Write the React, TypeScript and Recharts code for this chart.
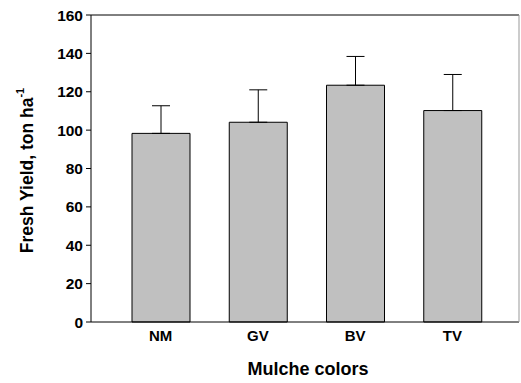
import React from 'react';
import {
  BarChart,
  Bar,
  XAxis,
  YAxis,
  ErrorBar,
} from 'recharts';

// values
const mulches = ['NM', 'GV', 'BV', 'TV'];
const yieldMean = [98.3, 104.1, 123.4, 110.2];
const yieldErr = [14.4, 16.9, 15.0, 18.8];
const yTicks = [0, 20, 40, 60, 80, 100, 120, 140, 160];

const data = mulches.map((m, i) => ({
  name: m,
  value: yieldMean[i],
  err: [0, yieldErr[i]],
}));

const FONT = '"Liberation Sans", Arial, sans-serif';

const YLabel = ({ viewBox }: any) => {
  const cx = 27;
  const cy = viewBox.y + viewBox.height / 2 + 2;
  return (
    <text
      x={cx}
      y={cy}
      transform={`rotate(-90, ${cx}, ${cy})`}
      textAnchor="middle"
      dominantBaseline="central"
      fontFamily={FONT}
      fontWeight="bold"
      fontSize={17.5}
      fill="#000"
    >
      Fresh Yield, ton ha
      <tspan fontSize={11} dy={-7}>-1</tspan>
    </text>
  );
};

const XLabel = ({ viewBox }: any) => {
  return (
    <text
      x={viewBox.x + viewBox.width / 2 + 3}
      y={369}
      textAnchor="middle"
      dominantBaseline="central"
      fontFamily={FONT}
      fontWeight="bold"
      fontSize={18}
      fill="#000"
    >
      Mulche colors
    </text>
  );
};

export default function App() {
  return (
    <div style={{ position: 'absolute', left: 0, top: 0, width: 521, height: 383, background: '#fff' }}>
      <BarChart
        width={521}
        height={383}
        data={data}
        margin={{ top: 14, right: 1, bottom: 31, left: 0 }}
        barCategoryGap={0}
      >
        <XAxis
          dataKey="name"
          padding={{ left: 21, right: 18 }}
          stroke="#000"
          tickLine={false}
          height={30}
          tick={{ fill: '#000', fontSize: 15, fontWeight: 'bold', fontFamily: FONT }}
          tickMargin={2}
          label={<XLabel />}
        />
        <XAxis xAxisId="top" orientation="top" dataKey="name" stroke="#000" tick={false} tickLine={false} height={1} />
        <YAxis
          domain={[0, 160]}
          ticks={yTicks}
          width={91}
          stroke="#000"
          tickSize={5}
          tickMargin={3}
          tick={{ fill: '#000', fontSize: 15.5, fontWeight: 'bold', fontFamily: FONT }}
          label={<YLabel />}
        />
        <YAxis yAxisId="right" orientation="right" stroke="#999" tick={false} tickLine={false} width={1} />
        <Bar dataKey="value" fill="#c0c0c0" stroke="#000" strokeWidth={1} barSize={58} isAnimationActive={false}>
          <ErrorBar dataKey="err" direction="y" width={9} stroke="#000" strokeWidth={1} />
        </Bar>
      </BarChart>
    </div>
  );
}
